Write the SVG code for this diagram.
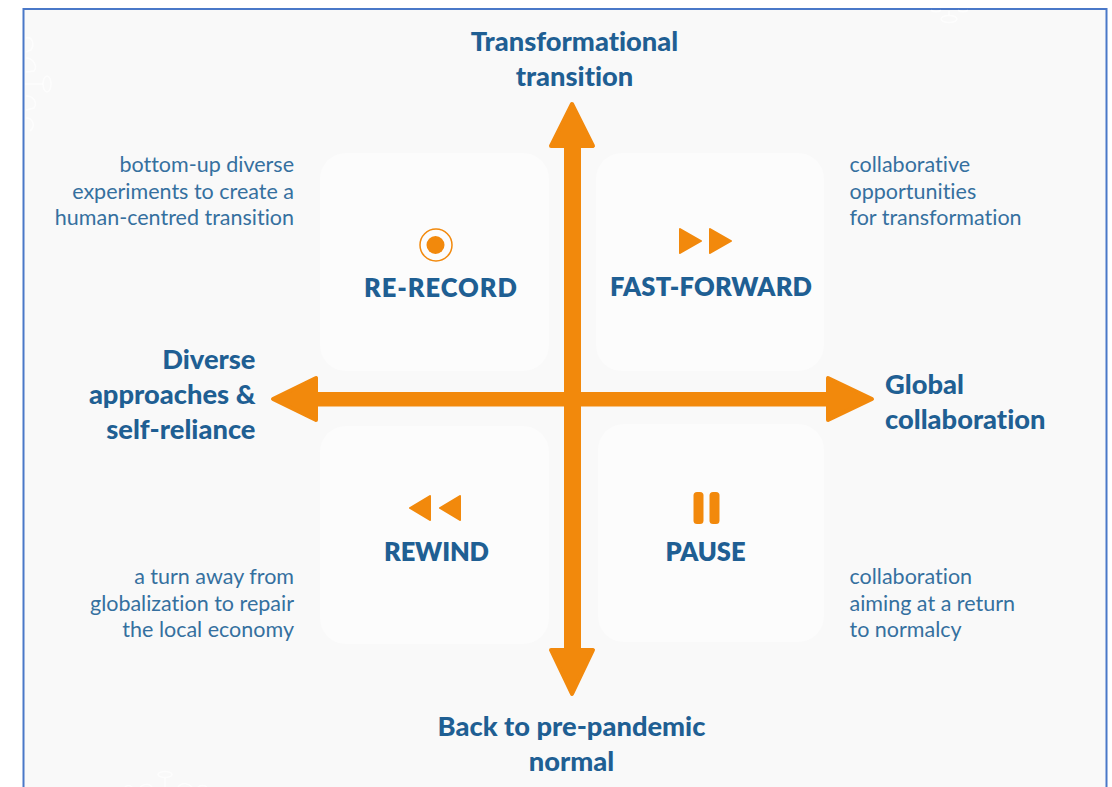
<svg xmlns="http://www.w3.org/2000/svg" width="1112" height="787" viewBox="0 0 1112 787">
<style>
text{font-variant-ligatures:none}
.ax{font-family:"Lato","Liberation Sans",sans-serif;font-weight:900;font-size:27.300px;fill:#1f5f93}
.q{font-family:"Lato","Liberation Sans",sans-serif;font-weight:800;font-size:25.500px;fill:#1f5f93;text-anchor:middle}
.d{font-family:"Lato","Liberation Sans",sans-serif;font-size:21.500px;fill:#35709f}
.e{text-anchor:end}
.card{fill:#fcfcfc}
.o{fill:#f2890c;stroke:#f2890c;stroke-linejoin:round}
.v{fill:none;stroke:#fff;stroke-width:1.500;opacity:.7}
</style>
<rect width="1112" height="787" fill="#fff"/>
<rect x="23.500" y="9" width="1083" height="790" fill="#f9f9f9" stroke="#4a78c8" stroke-width="2"/>
<g id="backdrop">
<ellipse class="v" cx="47" cy="84" rx="4" ry="8"/><path class="v" d="M25 84H43M26 38C32 36 35 44 31 50L26 52M26 58C33 58 38 66 34 71L26 72M26 96C33 96 38 102 34 108L26 110M26 118C33 118 36 126 30 131"/>
<ellipse class="v" cx="949" cy="19" rx="8" ry="3.500"/><path class="v" d="M949 11V15.500M931 10.500C934 12 938 12 941 10.500M958 10.500C961 12 965 12 968 10.500"/>
<ellipse class="v" cx="165" cy="774.500" rx="7" ry="3"/><path class="v" d="M165 778V787M140 787C144 784 149 783 152 787M178 787C182 782 188 783 192 787M125 787C127 785 130 785 132 787M198 787C200 785 205 785 207 787"/>
</g>
<g id="node-re-record">
<rect class="card" x="320" y="153" width="229" height="218" rx="26"/>
<circle cx="436" cy="245" r="16" fill="none" stroke="#f2890c" stroke-width="1.500"/>
<circle cx="435.500" cy="245" r="9" fill="#f2890c"/>
<text class="q" x="440.500" y="297" textLength="153">RE-RECORD</text>
</g>
<g id="node-fast-forward">
<rect class="card" x="596" y="153" width="228" height="218" rx="26"/>
<path class="o" stroke-width="2" d="M680 229L701 241L680 253Z M710 229L731 241L710 253Z"/>
<text class="q" x="711" y="296" textLength="202">FAST-FORWARD</text>
</g>
<g id="node-rewind">
<rect class="card" x="320" y="426" width="229" height="218" rx="26"/>
<path class="o" stroke-width="2" d="M430 496L410 508L430 520Z M460 496L440 508L460 520Z"/>
<text class="q" x="436.500" y="561" textLength="105">REWIND</text>
</g>
<g id="node-pause">
<rect class="card" x="598" y="424" width="226" height="218" rx="26"/>
<rect x="693.500" y="492" width="10" height="32" rx="3.500" fill="#f2890c"/>
<rect x="709.500" y="492" width="10" height="32" rx="3.500" fill="#f2890c"/>
<text class="q" x="705.500" y="561" textLength="80">PAUSE</text>
</g>
<g id="connectors">
<rect x="564" y="146" width="17" height="504" fill="#f2890c"/>
<rect x="316" y="392" width="510" height="14.500" fill="#f2890c"/>
<path class="o" stroke-width="4" d="M572 104L593 146L551 146Z"/>
<path class="o" stroke-width="4" d="M572 694L593 650L551 650Z"/>
<path class="o" stroke-width="4" d="M273 399L316 378L316 420Z"/>
<path class="o" stroke-width="4" d="M872 399L828 378L828 420Z"/>
</g>
<g id="label-top"><text class="ax" text-anchor="middle" x="574.500" y="50.500">Transformational</text><text class="ax" text-anchor="middle" x="574.500" y="85.500">transition</text></g>
<g id="label-bottom"><text class="ax" text-anchor="middle" x="571.500" y="736">Back to pre-pandemic</text><text class="ax" text-anchor="middle" x="571.500" y="771">normal</text></g>
<g id="label-left"><text class="ax e" x="255.500" y="368.500">Diverse</text><text class="ax e" x="255.500" y="403.500">approaches &amp;</text><text class="ax e" x="255.500" y="439">self-reliance</text></g>
<g id="label-right"><text class="ax" x="885" y="393.500">Global</text><text class="ax" x="885" y="428.500">collaboration</text></g>
<g id="desc-tl"><text class="d e" x="294" y="171.500">bottom-up diverse</text><text class="d e" x="294" y="198.500">experiments to create a</text><text class="d e" x="294" y="224.500">human-centred transition</text></g>
<g id="desc-tr"><text class="d" x="849.500" y="171.500">collaborative</text><text class="d" x="849.500" y="198.500">opportunities</text><text class="d" x="849.500" y="224.500">for transformation</text></g>
<g id="desc-bl"><text class="d e" x="294" y="583.500">a turn away from</text><text class="d e" x="294" y="610.500">globalization to repair</text><text class="d e" x="294" y="636.500">the local economy</text></g>
<g id="desc-br"><text class="d" x="849.500" y="583.500">collaboration</text><text class="d" x="849.500" y="610.500">aiming at a return</text><text class="d" x="849.500" y="636.500">to normalcy</text></g>
</svg>
